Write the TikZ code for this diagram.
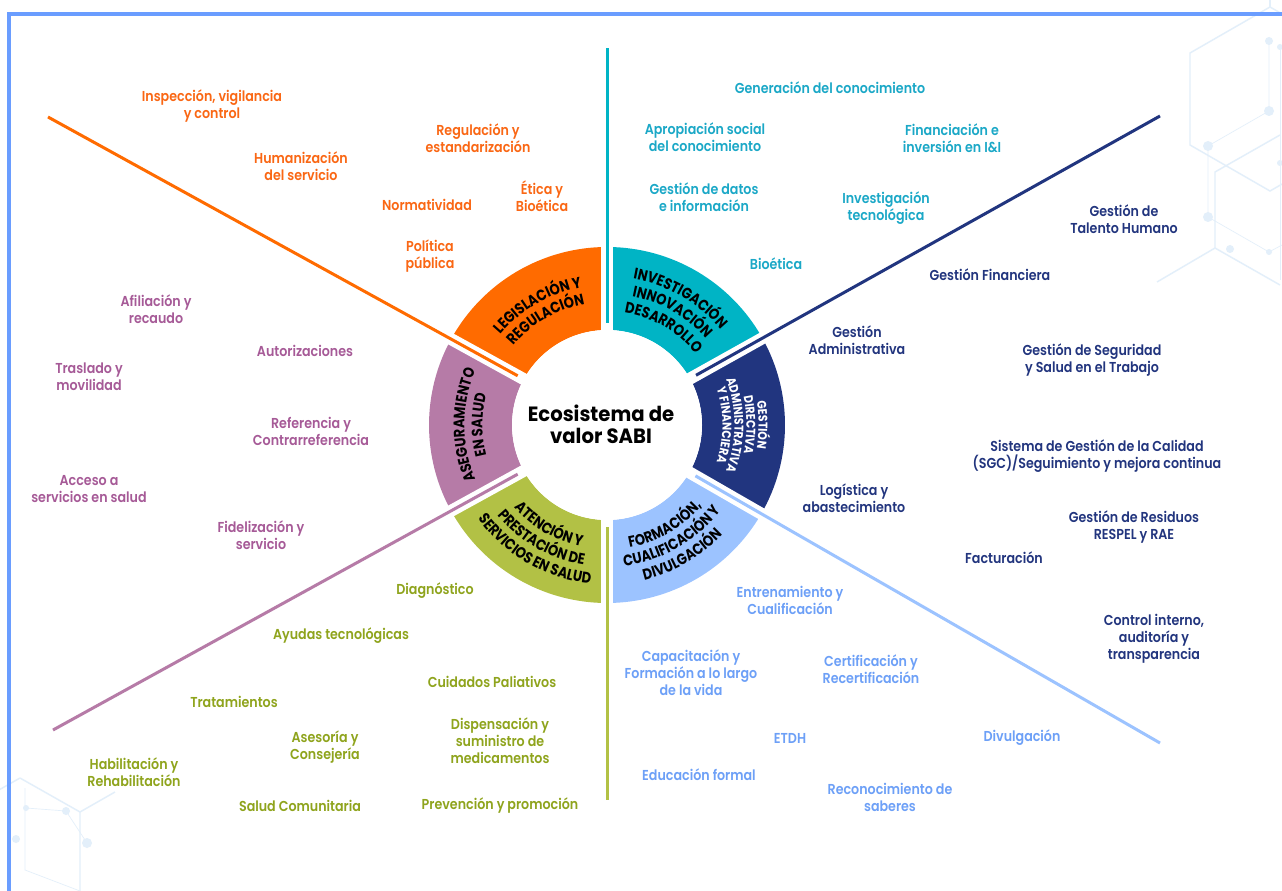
\documentclass[tikz,border=0pt]{standalone}
\usepackage{fontspec}
\setmainfont{Poppins}[UprightFont={* SemiBold}, BoldFont={* Bold}, FakeStretch=0.88]
\newfontfamily\segfont{Poppins}[UprightFont={* Bold}, FakeStretch=0.85]
\newfontfamily\titlefont{Poppins}[UprightFont={* Bold}, FakeStretch=0.95]
\usetikzlibrary{decorations.text,calc}
\definecolor{cOr}{HTML}{FF6B00}
\definecolor{tOr}{HTML}{FA6714}
\definecolor{cTe}{HTML}{00B4C5}
\definecolor{tTe}{HTML}{1BA8C7}
\definecolor{cNa}{HTML}{21357F}
\definecolor{tNa}{HTML}{22357E}
\definecolor{cLb}{HTML}{9CC3FF}
\definecolor{tLb}{HTML}{6DA0F7}
\definecolor{cOl}{HTML}{B2C145}
\definecolor{tOl}{HTML}{8FA41D}
\definecolor{cPu}{HTML}{B67BA7}
\definecolor{tPu}{HTML}{A65A97}
\definecolor{bord}{HTML}{6A9DFF}
\definecolor{hexc}{HTML}{E3EFFA}
\newcommand\mysector[3]{\fill[#1] (#2:95) arc[start angle=#2,end angle=#3,radius=95] -- (#3:178) arc[start angle=#3,end angle=#2,radius=178] -- cycle;}
\newcommand\arclabel[6]{% text, radius, start, end, color, size
  \path[decorate, decoration={text along path, text align=center, text color=#5, text={|\segfont\fontsize{#6}{#6}\selectfont|#1}}] (#3:#2) arc[start angle=#3, end angle=#4, radius=#2];}
\begin{document}
\begin{tikzpicture}[x=0.75pt,y=0.75pt,
  lab/.style={align=center, inner sep=0pt, font=\fontsize{10.8}{12.75}\selectfont},
  hexl/.style={draw=hexc, line width=1.1pt},
  hexthin/.style={draw=hexc, line width=0.5pt},
  dot/.style={fill=hexc},
  divl/.style={line width=2.25pt},
  gap/.style={white, line width=9pt}]
\useasboundingbox (0,0) rectangle (1282,-891);
\fill[white] (0,0) rectangle (1282,-891);
% background hexagons
\begin{scope}
\clip (0,0) rectangle (1282,-891);
\draw[hexl] (1270,-7) -- (1350,-53) -- (1350,-145) -- (1270,-191) -- (1190,-145) -- (1190,-53) -- cycle;
\draw[hexl] (1270,0) -- (1270,-7);
\draw[hexl] (1280,-135) -- (1215,-172) -- (1215,-248) -- (1280,-285);
\draw[hexl] (1215,-248) -- (1157,-282);
\draw[hexthin] (1208,-146) -- (1269,-111) -- (1269,-41);
\draw[hexthin] (1208,-146) -- (1208,-217) -- (1269,-252) -- (1282,-245);
\draw[hexthin] (1280,-47) -- (1280,-280);
\fill[dot] (1269,-41) circle (4) (1269,-111) circle (5) (1208,-146) circle (5) (1208,-217) circle (5) (1230,-249) circle (4) (1269,-252) circle (3) (1280,-163) circle (3) (1280,-47) circle (3);
\draw[hexl] (20,-778) -- (80,-812) -- (80,-891);
\draw[hexl] (20,-778) -- (-40,-812);
\draw[hexl] (80,-812) -- (115,-792);
\draw[hexthin] (25,-788) -- (25,-870) -- (80,-891);
\draw[hexthin] (26,-808) -- (66,-811) -- (87,-843);
\fill[dot] (26,-808) circle (3) (66,-811) circle (4) (87,-843) circle (5) (16,-839) circle (4);
\end{scope}
% frame
\draw[bord, line width=2.4pt] (1282,-14) -- (9,-14) -- (9,-891);
% wheel
\coordinate (C) at (607,-425);
\begin{scope}[shift={(607,-425)}]
\mysector{cOr}{90}{151.15}
\mysector{cPu}{151.15}{208.84}
\mysector{cOl}{208.84}{270}
\mysector{cLb}{270}{330.1}
\mysector{cNa}{330.1}{389.19}
\mysector{cTe}{29.19}{90}
\foreach \a in {90,151.15,208.84,270,330.1,29.19} \draw[gap] (0,0) -- (\a:190);
\fill[white] (0,0) circle (95);
\end{scope}
% divider lines
\coordinate (fTe) at (607,-48);
\coordinate (fOr) at (48,-117);
\coordinate (fPu) at (53,-730);
\coordinate (fOl) at (607,-800);
\coordinate (fLb) at (1160,-743);
\coordinate (fNa) at (1160,-116);
\foreach \f/\c in {fTe/cTe,fOr/cOr,fPu/cPu,fOl/cOl,fLb/cLb,fNa/cNa}
  \draw[divl,\c] ($(C)!76.5pt!(\f)$) coordinate (n\f) -- (\f);
% segment labels
\begin{scope}[shift={(607,-425)}]
\arclabel{LEGISLACIÓN Y}{140}{170}{70}{black}{11.5}
\arclabel{REGULACIÓN}{123}{170}{70}{black}{11.5}
\arclabel{INVESTIGACIÓN}{148.5}{110}{10}{black}{11.5}
\arclabel{INNOVACIÓN}{131}{110}{10}{black}{11.5}
\arclabel{DESARROLLO}{113.5}{110}{10}{black}{11.5}
\arclabel{GESTIÓN}{151.5}{50}{-50}{white}{9.5}
\arclabel{DIRECTIVA}{139.5}{50}{-50}{white}{9.5}
\arclabel{ADMINISTRATIVA}{127.5}{50}{-50}{white}{9.5}
\arclabel{Y FINANCIERA}{115.5}{50}{-50}{white}{9.5}
\arclabel{ASEGURAMIENTO}{142.5}{230}{130}{black}{11.5}
\arclabel{EN SALUD}{124.5}{230}{130}{black}{11.5}
\arclabel{ATENCIÓN Y}{124.5}{190}{290}{black}{11.5}
\arclabel{PRESTACIÓN DE}{142}{190}{290}{black}{11.5}
\arclabel{SERVICIOS EN SALUD}{159.5}{190}{290}{black}{11.5}
\arclabel{FORMACIÓN,}{124.5}{250}{350}{black}{11.5}
\arclabel{CUALIFICACIÓN Y}{142}{250}{350}{black}{11.5}
\arclabel{DIVULGACIÓN}{159.5}{250}{350}{black}{11.5}
\end{scope}
\node[align=center, inner sep=0pt, font=\titlefont\fontsize{15.5}{16.5}\selectfont] (title) at (601,-424) {Ecosistema de\\valor SABI};
% Legislación labels
\begin{scope}[every node/.style={lab, text=tOr}]
\node (ins) at (212,-105.5) {Inspección, vigilancia\\y control};
\node (hum) at (301,-166.5) {Humanización\\del servicio};
\node (reg) at (478,-138.5) {Regulación y\\estandarización};
\node (nor) at (427,-205) {Normatividad};
\node (eti) at (542,-196.5) {Ética y\\Bioética};
\node (pol) at (430,-256.5) {Política\\pública};
\end{scope}
% Investigación labels
\begin{scope}[every node/.style={lab, text=tTe}]
\node (gen) at (830,-88) {Generación del conocimiento};
\node (apr) at (705,-137) {Apropiación social\\del conocimiento};
\node (fin) at (952,-138.5) {Financiación e\\inversión en I\&I};
\node (gdat) at (704,-197.5) {Gestión de datos\\e información};
\node (inv) at (886,-208.5) {Investigación\\tecnológica};
\node (bio) at (776,-264) {Bioética};
\end{scope}
% Gestión labels
\begin{scope}[every node/.style={lab, text=tNa}]
\node (tal) at (1124,-219.5) {Gestión de\\Talento Humano};
\node (gfin) at (990,-274.5) {Gestión Financiera};
\node (adm) at (857,-340) {Gestión\\Administrativa};
\node (seg) at (1092,-360) {Gestión de Seguridad\\y Salud en el Trabajo};
\node (sgc) at (1097,-456.5) {Sistema de Gestión de la Calidad\\(SGC)/Seguimiento y mejora continua};
\node (logi) at (854,-498.5) {Logística y\\abastecimiento};
\node (res) at (1134,-526.5) {Gestión de Residuos\\RESPEL y RAE};
\node (fac) at (1004,-558) {Facturación};
\node (con) at (1154,-638.5) {Control interno,\\auditoría y\\transparencia};
\end{scope}
% Formación labels
\begin{scope}[every node/.style={lab, text=tLb}]
\node (ent) at (790,-600) {Entrenamiento y\\Cualificación};
\node (cap) at (691,-673) {Capacitación y\\Formación a lo largo\\de la vida};
\node (cer) at (871,-669.5) {Certificación y\\Recertificación};
\node (etd) at (790,-738) {ETDH};
\node (div) at (1022,-738) {Divulgación};
\node (edu) at (699,-775) {Educación formal};
\node (rec) at (890,-797.5) {Reconocimiento de\\saberes};
\end{scope}
% Atención labels
\begin{scope}[every node/.style={lab, text=tOl}]
\node (dia) at (435,-591) {Diagnóstico};
\node (ayu) at (341,-636) {Ayudas tecnológicas};
\node (tra) at (234,-702) {Tratamientos};
\node (cui) at (492,-682) {Cuidados Paliativos};
\node (ase) at (325,-747) {Asesoría y\\Consejería};
\node (dis) at (500,-740.5) {Dispensación y\\suministro de\\medicamentos};
\node (hab) at (134,-772.5) {Habilitación y\\Rehabilitación};
\node (sal) at (300,-806) {Salud Comunitaria};
\node (pre) at (500,-805) {Prevención y promoción};
\end{scope}
% Aseguramiento labels
\begin{scope}[every node/.style={lab, text=tPu}]
\node (afi) at (156,-309.5) {Afiliación y\\recaudo};
\node (aut) at (305,-351) {Autorizaciones};
\node (tras) at (89,-376.5) {Traslado y\\movilidad};
\node (ref) at (311,-431.5) {Referencia y\\Contrarreferencia};
\node (acc) at (89,-489) {Acceso a\\servicios en salud};
\node (fid) at (261,-535.5) {Fidelización y\\servicio};
\end{scope}
\end{tikzpicture}
\end{document}
